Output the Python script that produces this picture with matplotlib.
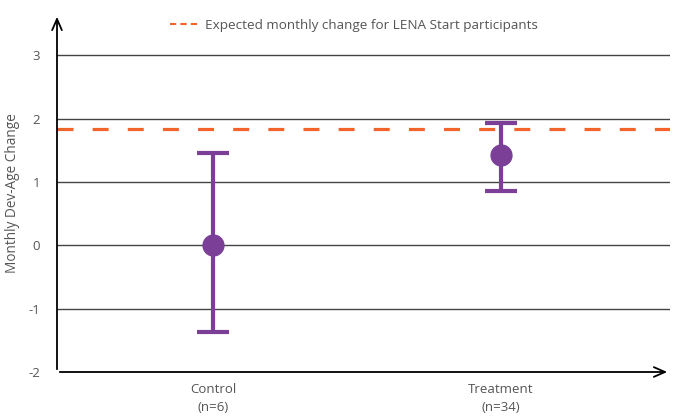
import matplotlib
matplotlib.use("Agg")
import matplotlib.pyplot as plt
from matplotlib.lines import Line2D

# data
groups = ["Control\n(n=6)", "Treatment\n(n=34)"]
means = [0.0, 1.42]
upper = [1.45, 1.93]
lower = [-1.37, 0.86]
expected = 1.83
yticks = [-2, -1, 0, 1, 2, 3]

purple = "#7B3F98"
orange = "#F4632A"
text_col = "#555555"

plt.rcParams["font.family"] = ["Open Sans", "DejaVu Sans"]

fig = plt.figure(figsize=(6.73, 4.16), dpi=100)
ax = fig.add_axes([57 / 673, 44 / 416, 613 / 673, 358 / 416])

x = [0, 1]
yerr = [[m - l for m, l in zip(means, lower)], [u - m for m, u in zip(means, upper)]]

for t in yticks[1:]:
    ax.axhline(t, color="#444444", lw=1.0, zorder=1)

ax.axhline(expected, color=orange, lw=2.3, dashes=(5, 6), zorder=2)

ax.errorbar(x, means, yerr=yerr, fmt="o", color=purple, ecolor=purple,
            markersize=15, elinewidth=3, capsize=11.5, capthick=3, zorder=3)

ax.set_xlim(-0.544, 1.59)
ax.set_ylim(-2, 3.65)
ax.set_xticks(x)
ax.set_xticklabels(groups, fontsize=9.5, color=text_col, linespacing=1.45)
ax.set_yticks(yticks)
ax.set_yticklabels([str(t) for t in yticks], fontsize=9.5, color=text_col)
ax.tick_params(axis="both", length=0)
ax.tick_params(axis="x", pad=8)
ax.tick_params(axis="y", pad=12)
ax.set_ylabel("Monthly Dev-Age Change", fontsize=9.8, color=text_col, labelpad=6)

for s in ax.spines.values():
    s.set_visible(False)

# axis arrows
ax.annotate("", xy=(0, 1), xytext=(0, 0), xycoords="axes fraction",
            arrowprops=dict(arrowstyle="->,head_length=0.8,head_width=0.35", color="black", lw=1.3))
ax.annotate("", xy=(1, 0), xytext=(0, 0), xycoords="axes fraction",
            arrowprops=dict(arrowstyle="->,head_length=0.8,head_width=0.35", color="black", lw=1.3))

handle = Line2D([], [], color=orange, lw=1.5, dashes=(3, 2))
fig.legend([handle], ["Expected monthly change for LENA Start participants"],
           loc="center left", bbox_to_anchor=(163 / 673, 1 - 25 / 416),
           frameon=False, fontsize=9.7, labelcolor=text_col,
           handlelength=2.0, handletextpad=0.6, borderpad=0)

fig.savefig("out.png", dpi=100)
